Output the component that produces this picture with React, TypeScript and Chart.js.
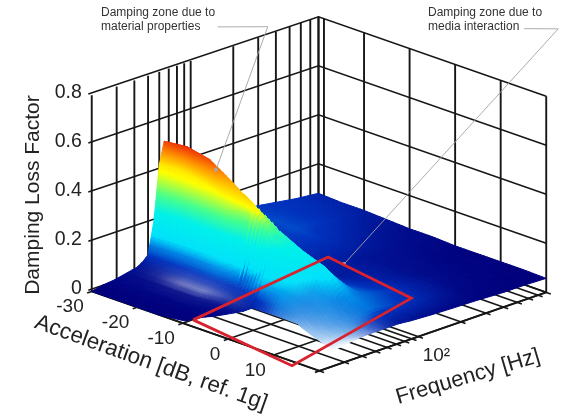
import React, { useEffect, useRef } from "react";
import { Chart, registerables } from "chart.js";

Chart.register(...registerables);

// ---- data ----
const lossTicks = [0, 0.2, 0.4, 0.6, 0.8];
const lossLabels = ["0", "0.2", "0.4", "0.6", "0.8"];
const accTicks = [-30, -20, -10, 0, 10, 20];
const accLabels = ["-30", "-20", "-10", "0", "10"];
const accExtraWallLine = -28.8;
const freqTicks = [20, 30, 40, 50, 60, 70, 80, 90, 100, 200, 300, 400, 500, 600, 700, 800];

const surfaceAcc = [-30, -25, -20, -15, -10, -5, 0, 5, 10, 15, 20];
const surfaceFreq = [20, 24, 29, 35, 42, 46, 50, 55, 60, 65, 73, 88, 126, 183, 263, 383, 555, 800];
const surfaceEdgeFreq = [20, 20, 20, 20, 21, 43, 43, 43, 38, 33, 27];

const surfaceLoss = [
  [0, 0.01, 0.015, 0.025, 0.035, 0.05, 0.07, 0.2, 0.42, 0.51, 0.4, 0.2, 0.11, 0.1, 0.12, 0.105, 0.09, 0.08],
  [0, 0.01, 0.015, 0.025, 0.035, 0.05, 0.08, 0.21, 0.43, 0.52, 0.42, 0.2, 0.11, 0.1, 0.1, 0.09, 0.085, 0.075],
  [0, 0.01, 0.015, 0.025, 0.035, 0.05, 0.08, 0.21, 0.41, 0.5, 0.4, 0.2, 0.11, 0.1, 0.095, 0.085, 0.08, 0.075],
  [0, 0.01, 0.015, 0.025, 0.035, 0.05, 0.08, 0.21, 0.37, 0.44, 0.35, 0.17, 0.11, 0.1, 0.09, 0.08, 0.075, 0.07],
  [0, 0.015, 0.02, 0.03, 0.04, 0.055, 0.09, 0.21, 0.33, 0.38, 0.3, 0.15, 0.1, 0.09, 0.085, 0.08, 0.07, 0.065],
  [0, 0, 0, 0.01, 0.02, 0.05, 0.11, 0.21, 0.28, 0.32, 0.25, 0.13, 0.09, 0.08, 0.08, 0.075, 0.07, 0.065],
  [0, 0, 0, 0.01, 0.02, 0.06, 0.12, 0.19, 0.25, 0.27, 0.21, 0.12, 0.09, 0.085, 0.08, 0.075, 0.065, 0.06],
  [0, 0, 0, 0.01, 0.02, 0.05, 0.1, 0.16, 0.2, 0.23, 0.19, 0.12, 0.1, 0.09, 0.08, 0.07, 0.065, 0.06],
  [0, 0, 0, 0.01, 0.03, 0.06, 0.09, 0.12, 0.14, 0.15, 0.14, 0.12, 0.1, 0.09, 0.08, 0.07, 0.065, 0.06],
  [0, 0, 0.01, 0.03, 0.06, 0.075, 0.085, 0.1, 0.1, 0.11, 0.11, 0.1, 0.09, 0.085, 0.075, 0.07, 0.06, 0.06],
  [0.05, 0.06, 0.07, 0.076, 0.08, 0.08, 0.08, 0.08, 0.08, 0.08, 0.08, 0.075, 0.07, 0.067, 0.065, 0.06, 0.06, 0.057],
];

const surfaceHeat = [
  [0, 0, 0.02, 0.04, 0.06, 0.1, 0.2, 0.4, 0.65, 0.92, 0.7, 0.3, 0.18, 0.18, 0.2, 0.2, 0.18, 0.14],
  [0, 0, 0.02, 0.03, 0.06, 0.13, 0.22, 0.4, 0.66, 0.95, 0.7, 0.3, 0.18, 0.18, 0.22, 0.2, 0.17, 0.13],
  [0, 0, 0.02, 0.03, 0.06, 0.14, 0.22, 0.4, 0.64, 0.9, 0.65, 0.3, 0.18, 0.2, 0.22, 0.2, 0.15, 0.1],
  [0, 0, 0.02, 0.03, 0.08, 0.15, 0.23, 0.4, 0.6, 0.75, 0.6, 0.3, 0.18, 0.2, 0.2, 0.15, 0.1, 0.07],
  [0, 0, 0.02, 0.05, 0.1, 0.16, 0.24, 0.4, 0.54, 0.66, 0.5, 0.25, 0.15, 0.15, 0.14, 0.1, 0.06, 0.04],
  [0, 0, 0, 0.05, 0.1, 0.18, 0.29, 0.39, 0.47, 0.5, 0.42, 0.22, 0.12, 0.1, 0.08, 0.06, 0.04, 0.03],
  [0.05, 0.05, 0.1, 0.15, 0.22, 0.25, 0.29, 0.36, 0.42, 0.43, 0.36, 0.2, 0.1, 0.1, 0.06, 0.04, 0.02, 0.01],
  [0.15, 0.15, 0.18, 0.2, 0.24, 0.25, 0.26, 0.29, 0.33, 0.35, 0.3, 0.23, 0.15, 0.1, 0.05, 0.03, 0.01, 0],
  [0.2, 0.2, 0.23, 0.24, 0.25, 0.25, 0.26, 0.26, 0.27, 0.28, 0.26, 0.24, 0.2, 0.12, 0.05, 0.02, 0.01, 0],
  [0.24, 0.24, 0.24, 0.25, 0.25, 0.25, 0.25, 0.25, 0.25, 0.25, 0.24, 0.22, 0.18, 0.1, 0.03, 0.01, 0, 0],
  [0.24, 0.24, 0.24, 0.24, 0.2, 0.2, 0.18, 0.15, 0.12, 0.1, 0.08, 0.06, 0.04, 0.02, 0.01, 0, 0, 0],
];

const surfaceSheen = [
  [0, 0, 0, 0, 0, 0, 0, 0, 0, 0, 0, 0, 0, 0, 0, 0, 0, 0],
  [0, 0, 0, 0.02, 0.12, 0.08, 0, 0, 0, 0, 0, 0, 0, 0, 0, 0, 0, 0],
  [0, 0, 0, 0.06, 0.42, 0.2, 0.02, 0, 0, 0, 0, 0, 0, 0, 0, 0, 0, 0],
  [0, 0, 0, 0.06, 0.46, 0.2, 0.02, 0, 0, 0, 0, 0, 0, 0, 0, 0, 0, 0],
  [0, 0, 0, 0.03, 0.22, 0.08, 0, 0, 0, 0, 0, 0, 0, 0, 0, 0, 0, 0],
  [0, 0, 0, 0, 0, 0, 0, 0, 0, 0, 0, 0, 0, 0, 0, 0, 0, 0],
  [0, 0, 0, 0.2, 0.25, 0.08, 0, 0, 0, 0, 0, 0, 0, 0, 0, 0, 0, 0],
  [0.6, 0.6, 0.6, 0.6, 0.55, 0.3, 0.12, 0.03, 0, 0, 0, 0, 0, 0, 0, 0, 0, 0],
  [0.8, 0.8, 0.8, 0.75, 0.55, 0.35, 0.2, 0.08, 0.02, 0, 0, 0, 0, 0, 0, 0, 0, 0],
  [1, 1, 0.9, 0.85, 0.5, 0.35, 0.22, 0.12, 0.05, 0, 0, 0, 0, 0, 0, 0, 0, 0],
  [1, 1, 1, 0.85, 0.55, 0.42, 0.3, 0.18, 0.1, 0.05, 0, 0, 0, 0, 0, 0, 0, 0],
];

// marked region on the floor: [acceleration dB, frequency Hz]
const zoneAcc = [-9.9, 15.4, 7.1, -15];
const zoneFreq = [23.5, 18, 232, 308];
// leader lines: [acceleration dB, frequency Hz, loss factor]
const materialLeader = [[-20, 74, 1.03], [-20, 167, 0.96], [-20, 72, 0.45]];
const mediaLeader = [[-5, 3560, 0.784], [-5, 6200, 0.735], [-5, 190, 0.078]];

// ---- projection of the three data axes to the chart's flat scales ----
const FONT = '"Liberation Sans", Arial, sans-serif';
const ORIGIN = [89, 293];
const ACC_VEC = [231, 81];
const FREQ_VEC = [230, -80];
const LOSS_UNIT = 250;
const accFrac = (a: number) => (a + 30) / 50;
const freqFrac = (f: number) => Math.log10(f / 20) / Math.log10(40);
const project = (u: number, v: number, z: number) => ({
  x: ORIGIN[0] + ACC_VEC[0] * u + FREQ_VEC[0] * v,
  y: ORIGIN[1] + ACC_VEC[1] * u + FREQ_VEC[1] * v - LOSS_UNIT * z,
});

const uGrid = surfaceAcc.map(accFrac);
const vGrid = surfaceFreq.map(freqFrac);
const edgeV = surfaceEdgeFreq.map(freqFrac);

function locate(grid: number[], t: number) {
  let i = 0;
  while (i < grid.length - 2 && t > grid[i + 1]) i++;
  return [i, Math.min(1, Math.max(0, (t - grid[i]) / (grid[i + 1] - grid[i])))];
}
function sample(table: number[][], u: number, v: number) {
  const [i, a] = locate(uGrid, u);
  const [j, b] = locate(vGrid, v);
  return (
    (1 - a) * ((1 - b) * table[i][j] + b * table[i][j + 1]) +
    a * ((1 - b) * table[i + 1][j] + b * table[i + 1][j + 1])
  );
}
function edgeAt(u: number) {
  const [i, a] = locate(uGrid, u);
  return (1 - a) * edgeV[i] + a * edgeV[i + 1];
}

const STOPS: [number, number[]][] = [
  [0, [0, 0, 125]],
  [0.2, [0, 50, 190]],
  [0.27, [0, 135, 230]],
  [0.32, [0, 225, 250]],
  [0.44, [0, 240, 235]],
  [0.52, [70, 255, 140]],
  [0.62, [255, 255, 0]],
  [0.8, [255, 140, 0]],
  [0.95, [235, 40, 10]],
  [1, [225, 30, 10]],
];
function shade(h: number, s: number) {
  let k = 0;
  while (k < STOPS.length - 2 && h > STOPS[k + 1][0]) k++;
  const t = Math.min(1, Math.max(0, (h - STOPS[k][0]) / (STOPS[k + 1][0] - STOPS[k][0])));
  const c = STOPS[k][1].map((q, n) => q + (STOPS[k + 1][1][n] - q) * t);
  const w = c.map((q) => Math.round(q + (255 - q) * Math.min(1, s)));
  return `rgb(${w[0]},${w[1]},${w[2]})`;
}

const line = (pts: { x: number; y: number }[], color: string, width: number) => ({
  data: pts,
  showLine: true,
  borderColor: color,
  borderWidth: width,
  pointRadius: 0,
  fill: false,
  tension: 0,
});

function buildDatasets(ctx: CanvasRenderingContext2D) {
  const sets: any[] = []; // in paint order, back to front
  const ink = "#161616";
  for (const z of lossTicks) {
    sets.push(line([project(-0.015, 0, z), project(0, 1, z), project(1, 1, z)], ink, 1.6));
  }
  for (const f of freqTicks) {
    const v = freqFrac(f);
    sets.push(line([project(0, v, 0), project(0, v, 0.8)], ink, 1.9));
    sets.push(line([project(0, v, 0), project(1.02, v, 0)], ink, 1.6));
  }
  for (const a of accTicks) {
    const u = accFrac(a);
    sets.push(line([project(u, 1, 0), project(u, 1, 0.8)], ink, 1.9));
    sets.push(line([project(u, -0.02, 0), project(u, 1, 0)], ink, 1.6));
  }
  const extra = accFrac(accExtraWallLine);
  sets.push(line([project(extra, 1, 0), project(extra, 1, 0.8)], ink, 1.9));
  sets.push(line([project(0, 0, 0), project(1, 0, 0), project(1, 1, 0)], ink, 1.9));

  // surface quads, far to near; each quad is shaded by a gradient across it
  const vFine: number[] = [];
  vGrid.slice(0, -1).forEach((v, j) => {
    const n = j >= 4 && j <= 9 ? 4 : 2;
    for (let k = 0; k < n; k++) vFine.push(v + ((vGrid[j + 1] - v) * k) / n);
  });
  vFine.push(1);
  const NU = 70;
  const at = (iu: number, jv: number) => {
    const u = iu / NU;
    const e = edgeAt(u);
    const v = e + vFine[jv] * (1 - e);
    return { u, v };
  };
  for (let i = 0; i < NU; i++) {
    for (let j = vFine.length - 2; j >= 0; j--) {
      const corners = [at(i, j), at(i + 1, j), at(i + 1, j + 1), at(i, j + 1)];
      const pts = corners.map((c) => project(c.u, c.v, sample(surfaceLoss, c.u, c.v)));
      const cu = (corners[0].u + corners[1].u) / 2;
      const loV = (corners[0].v + corners[1].v) / 2;
      const hiV = (corners[2].v + corners[3].v) / 2;
      const x0 = (pts[0].x + pts[1].x) / 2;
      const y0 = (pts[0].y + pts[1].y) / 2;
      const x1 = (pts[2].x + pts[3].x) / 2;
      const y1 = (pts[2].y + pts[3].y) / 2;
      const g = ctx.createLinearGradient(x0, y0, x1, y1);
      for (let s = 0; s <= 4; s++) {
        const v = loV + ((hiV - loV) * s) / 4;
        g.addColorStop(s / 4, shade(sample(surfaceHeat, cu, v), sample(surfaceSheen, cu, v)));
      }
      sets.push({
        data: [...pts, pts[0]],
        showLine: true,
        fill: "shape",
        backgroundColor: g,
        borderColor: g,
        borderWidth: 1,
        pointRadius: 0,
        tension: 0,
      });
    }
  }

  const zone = zoneAcc.map((a, i) => project(accFrac(a), freqFrac(zoneFreq[i]), 0));
  const toScreen = (p: number[]) => project(accFrac(p[0]), freqFrac(p[1]), p[2]);
  for (const leader of [materialLeader, mediaLeader]) {
    sets.push(line(leader.map(toScreen), "#a3a3a3", 0.9));
    sets.push({
      data: [toScreen(leader[leader.length - 1])],
      pointRadius: 2,
      pointBackgroundColor: "#a8a8a8",
      pointBorderWidth: 0,
      showLine: false,
    });
  }
  sets.push({ ...line([...zone, zone[0]], "#d8232f", 2.8), borderJoinStyle: "miter" });
  return sets.reverse(); // Chart.js paints the first dataset last
}

const textPlugin = {
  id: "axisText",
  afterDraw(chart: any) {
    const { ctx, scales } = chart;
    const px = (p: { x: number; y: number }) => ({
      x: scales.x.getPixelForValue(p.x),
      y: scales.y.getPixelForValue(p.y),
    });
    const put = (s: string, x: number, y: number, size: number, align = "center", rot = 0, color = "#222") => {
      ctx.save();
      ctx.translate(x, y);
      ctx.rotate((rot * Math.PI) / 180);
      ctx.font = `${size}px ${FONT}`;
      ctx.fillStyle = color;
      ctx.textAlign = align;
      ctx.textBaseline = "middle";
      ctx.fillText(s, 0, 0);
      ctx.restore();
    };
    lossTicks.forEach((z, i) => {
      const p = px(project(0, 0, z));
      put(lossLabels[i], p.x - 10, p.y - 3, 19.5, "right");
    });
    accLabels.forEach((s, i) => {
      const p = px(project(accFrac(accTicks[i]), 0, 0));
      put(s, p.x - 8, p.y + 15.5, 19, "right");
    });
    const dec = px(project(1, freqFrac(100), 0));
    put("10\u00B2", dec.x + 18, dec.y + 19, 19);
    put("Damping Loss Factor", 33, 195, 21, "center", -90);
    put("Acceleration [dB, ref. 1g]", 151, 363, 22.4, "center", 19.7);
    put("Frequency [Hz]", 468, 377, 22, "center", -16.5);
    put("Damping zone due to", 101, 13, 12, "left", 0, "#333");
    put("material properties", 101, 27, 12, "left", 0, "#333");
    put("Damping zone due to", 428, 13, 12, "left", 0, "#333");
    put("media interaction", 428, 27, 12, "left", 0, "#333");
  },
};

export default function App() {
  const ref = useRef<HTMLCanvasElement>(null);
  useEffect(() => {
    if (!ref.current) return;
    const ctx = ref.current.getContext("2d") as CanvasRenderingContext2D;
    const chart = new Chart(ctx, {
      type: "scatter",
      data: { datasets: buildDatasets(ctx) },
      options: {
        animation: false,
        responsive: false,
        devicePixelRatio: 1,
        events: [],
        layout: { padding: 0 },
        clip: false,
        parsing: false,
        normalized: true,
        scales: {
          x: { type: "linear", min: 0, max: 566, display: false },
          y: { type: "linear", min: 0, max: 416, reverse: true, display: false },
        },
        plugins: { legend: { display: false }, tooltip: { enabled: false }, title: { display: false } },
      } as any,
      plugins: [textPlugin],
    });
    return () => chart.destroy();
  }, []);
  return (
    <canvas
      ref={ref}
      width={566}
      height={416}
      style={{ position: "absolute", left: 0, top: 0, width: 566, height: 416, background: "#fff" }}
    />
  );
}
